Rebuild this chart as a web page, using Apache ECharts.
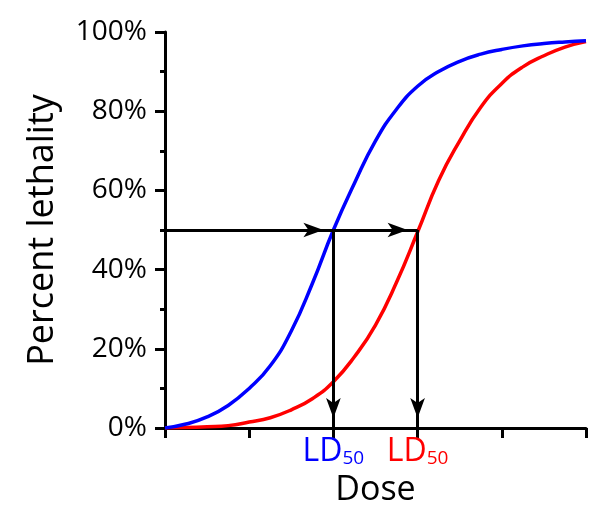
<!DOCTYPE html>
<html>
<head>
<meta charset="utf-8">
<script src="https://cdn.jsdelivr.net/npm/echarts@6/dist/echarts.min.js"></script>
<style>
  html, body { margin: 0; padding: 0; background: #fff; }
  #chart { width: 610px; height: 520px; }
</style>
</head>
<body>
<div id="chart"></div>
<script>
// dose positions (arbitrary units) and lethality in percent
const doses = [0, 0.25, 0.5, 0.75, 1, 1.25, 1.5, 1.75, 2, 2.25, 2.5, 2.75, 3, 3.25, 3.5, 3.75, 4, 4.25, 4.5, 4.75, 5];
const blueLethality = [0, 1.0, 2.8, 5.7, 10, 15.7, 24.5, 36.5, 50, 61.8, 72.5, 80.5, 86.3, 90, 92.6, 94.4, 95.6, 96.5, 97.1, 97.5, 97.8];
const redLethality = [0, 0.1, 0.3, 0.6, 1.5, 2.6, 4.6, 7.4, 11.7, 18, 26, 36.8, 49.5, 62.5, 72.5, 81, 87, 91.2, 94, 96.2, 97.6];
const ld50Blue = 2;
const ld50Red = 3;
const yTicks = [0, 20, 40, 60, 80, 100];

const FONT = "'Open Sans', 'Noto Sans', sans-serif";

const chart = echarts.init(document.getElementById('chart'));

const pairs = (ys) => doses.map((d, i) => [d, ys[i]]);

// arrow segments: from the y axis to each LD50, then down to the dose axis
const arrowSegments = [
  [[0, 50], [ld50Blue, 50]],
  [[ld50Blue, 50], [ld50Red, 50]],
  [[ld50Blue, 50], [ld50Blue, 0]],
  [[ld50Red, 50], [ld50Red, 0]],
];

chart.setOption({
  animation: false,
  textStyle: { fontFamily: FONT },
  grid: { left: 165, right: 24, top: 32, bottom: 92 },
  xAxis: {
    type: 'value',
    min: 0,
    max: 5,
    interval: 1,
    name: 'Dose',
    nameLocation: 'middle',
    nameGap: 37,
    nameTextStyle: { color: '#000', fontSize: 34, fontFamily: FONT },
    axisLine: { lineStyle: { color: '#000', width: 3 } },
    axisTick: { show: true, length: 10, lineStyle: { color: '#000', width: 3 } },
    splitLine: { show: false },
    axisLabel: {
      margin: 8,
      fontSize: 32,
      fontFamily: FONT,
      formatter: (v) => v === ld50Blue ? '{b|LD}{bs|50}' : (v === ld50Red ? '{r|LD}{rs|50}' : ''),
      rich: {
        b: { color: '#0000ff', fontSize: 32, fontFamily: FONT, lineHeight: 32, verticalAlign: 'bottom' },
        bs: { color: '#0000ff', fontSize: 19, fontFamily: FONT, lineHeight: 26, verticalAlign: 'bottom' },
        r: { color: '#ff0000', fontSize: 32, fontFamily: FONT, lineHeight: 32, verticalAlign: 'bottom' },
        rs: { color: '#ff0000', fontSize: 19, fontFamily: FONT, lineHeight: 26, verticalAlign: 'bottom' },
      },
    },
  },
  yAxis: {
    type: 'value',
    min: yTicks[0],
    max: yTicks[yTicks.length - 1],
    interval: 20,
    name: 'Percent lethality',
    nameLocation: 'middle',
    nameRotate: 90,
    nameGap: 104,
    nameTextStyle: { color: '#000', fontSize: 36, fontFamily: FONT },
    axisLine: { show: true, lineStyle: { color: '#000', width: 3 } },
    axisTick: { show: true, length: 10, lineStyle: { color: '#000', width: 3 } },
    minorTick: { show: true, splitNumber: 2, length: 5, lineStyle: { color: '#000', width: 3 } },
    splitLine: { show: false },
    axisLabel: {
      margin: 18,
      color: '#000',
      fontSize: 28,
      fontFamily: FONT,
      formatter: '{value}%',
    },
  },
  series: [
    {
      name: 'red',
      type: 'line',
      smooth: true,
      showSymbol: false,
      data: pairs(redLethality),
      lineStyle: { color: '#ff0000', width: 3.5 },
      itemStyle: { color: '#ff0000' },
      z: 2,
    },
    {
      name: 'blue',
      type: 'line',
      smooth: true,
      showSymbol: false,
      data: pairs(blueLethality),
      lineStyle: { color: '#0000ff', width: 3.5 },
      itemStyle: { color: '#0000ff' },
      z: 3,
    },
    {
      name: 'arrows',
      type: 'line',
      data: [],
      z: 4,
      markLine: {
        silent: true,
        animation: false,
        symbol: ['none', 'arrow'],
        symbolSize: [11, 20],
        symbolOffset: [[0, 0], [0, 10]],
        label: { show: false },
        lineStyle: { color: '#000', width: 3, type: 'solid' },
        emphasis: { disabled: true },
        data: arrowSegments.map(([a, b]) => [{ coord: a }, { coord: b }]),
      },
    },
  ],
});
</script>
</body>
</html>
